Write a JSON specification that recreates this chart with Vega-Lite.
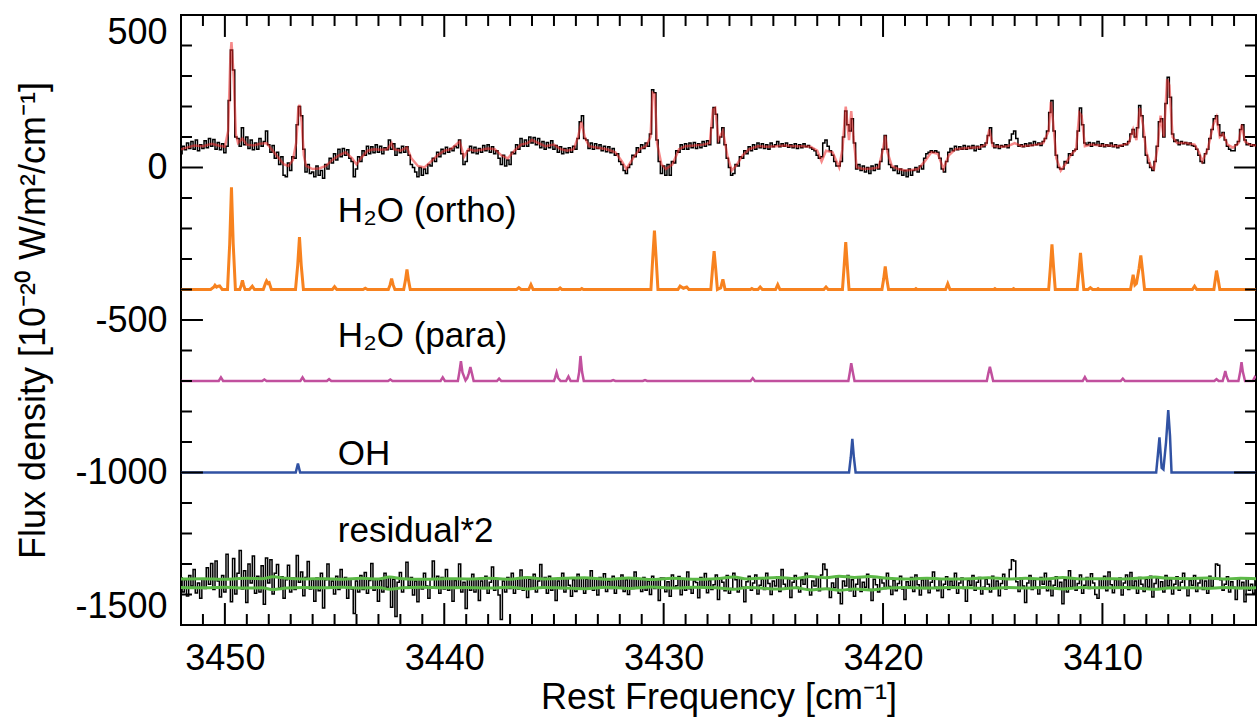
{
"$schema": "https://vega.github.io/schema/vega-lite/v6.json",
"width": 1075, "height": 610,
"autosize": "none",
"padding": {"left": 181, "top": 15, "right": 1, "bottom": 98},
"background": "white",
"config": {"view": {"stroke": "black", "strokeWidth": 2}, "font": "Liberation Sans", "axis": {"grid": false, "ticks": false, "domain": false, "labelFlush": false, "labelOverlap": false}},
"datasets": {
"main": [
{"x":3452.0,"o":45,"r":-1345},{"x":3451.9,"o":70,"r":-1392},{"x":3451.8,"o":58,"r":-1352},{"x":3451.7,"o":80,"r":-1405},{"x":3451.6,"o":62,"r":-1338},{"x":3451.5,"o":85,"r":-1372},{"x":3451.4,"o":60,"r":-1318},{"x":3451.3,"o":90,"r":-1395},{"x":3451.2,"o":55,"r":-1362},{"x":3451.1,"o":75,"r":-1412},{"x":3451.0,"o":62,"r":-1348},{"x":3450.9,"o":88,"r":-1380},{"x":3450.8,"o":65,"r":-1312},{"x":3450.7,"o":95,"r":-1366},{"x":3450.6,"o":70,"r":-1298},{"x":3450.5,"o":92,"r":-1384},{"x":3450.4,"o":60,"r":-1290},{"x":3450.3,"o":82,"r":-1356},{"x":3450.2,"o":58,"r":-1408},{"x":3450.1,"o":78,"r":-1338},{"x":3450.0,"o":48,"r":-1392},
{"x":3449.9,"o":70,"r":-1268},{"x":3449.8,"o":220,"r":-1350},{"x":3449.7,"o":385,"r":-1424},{"x":3449.6,"o":320,"r":-1282},{"x":3449.5,"o":100,"r":-1398},{"x":3449.4,"o":95,"r":-1330},{"x":3449.3,"o":70,"r":-1256},{"x":3449.2,"o":130,"r":-1382},{"x":3449.1,"o":75,"r":-1322},{"x":3449.0,"o":100,"r":-1426},
{"x":3448.9,"o":62,"r":-1300},{"x":3448.8,"o":90,"r":-1362},{"x":3448.7,"o":58,"r":-1274},{"x":3448.6,"o":80,"r":-1396},{"x":3448.5,"o":60,"r":-1340},{"x":3448.4,"o":95,"r":-1392},{"x":3448.3,"o":70,"r":-1306},{"x":3448.2,"o":85,"r":-1432},{"x":3448.1,"o":120,"r":-1280},{"x":3448.0,"o":75,"r":-1362},
{"x":3447.9,"o":50,"r":-1286},{"x":3447.8,"o":72,"r":-1398},{"x":3447.7,"o":30,"r":-1330},{"x":3447.6,"o":50,"r":-1302},{"x":3447.5,"o":10,"r":-1378},{"x":3447.4,"o":35,"r":-1342},{"x":3447.3,"o":-25,"r":-1412},{"x":3447.2,"o":-30,"r":-1352},{"x":3447.1,"o":15,"r":-1304},{"x":3447.0,"o":-10,"r":-1392},
{"x":3446.9,"o":35,"r":-1346},{"x":3446.8,"o":30,"r":-1384},{"x":3446.7,"o":140,"r":-1272},{"x":3446.6,"o":200,"r":-1360},{"x":3446.5,"o":170,"r":-1326},{"x":3446.4,"o":60,"r":-1404},{"x":3446.3,"o":-15,"r":-1344},{"x":3446.2,"o":10,"r":-1292},{"x":3446.1,"o":-20,"r":-1382},{"x":3446.0,"o":-15,"r":-1352},
{"x":3445.9,"o":-30,"r":-1422},{"x":3445.8,"o":5,"r":-1346},{"x":3445.7,"o":-25,"r":-1388},{"x":3445.6,"o":-10,"r":-1330},{"x":3445.5,"o":-35,"r":-1444},{"x":3445.4,"o":10,"r":-1352},{"x":3445.3,"o":-5,"r":-1300},{"x":3445.2,"o":30,"r":-1378},{"x":3445.1,"o":15,"r":-1356},{"x":3445.0,"o":45,"r":-1398},
{"x":3444.9,"o":25,"r":-1340},{"x":3444.8,"o":60,"r":-1384},{"x":3444.7,"o":35,"r":-1318},{"x":3444.6,"o":62,"r":-1376},{"x":3444.5,"o":40,"r":-1344},{"x":3444.4,"o":58,"r":-1412},{"x":3444.3,"o":30,"r":-1350},{"x":3444.2,"o":20,"r":-1382},{"x":3444.1,"o":-30,"r":-1462},{"x":3444.0,"o":-5,"r":-1356},
{"x":3443.9,"o":35,"r":-1392},{"x":3443.8,"o":20,"r":-1338},{"x":3443.7,"o":55,"r":-1384},{"x":3443.6,"o":40,"r":-1328},{"x":3443.5,"o":70,"r":-1396},{"x":3443.4,"o":45,"r":-1354},{"x":3443.3,"o":68,"r":-1298},{"x":3443.2,"o":48,"r":-1386},{"x":3443.1,"o":75,"r":-1348},{"x":3443.0,"o":50,"r":-1422},
{"x":3442.9,"o":70,"r":-1354},{"x":3442.8,"o":45,"r":-1392},{"x":3442.7,"o":65,"r":-1330},{"x":3442.6,"o":58,"r":-1376},{"x":3442.5,"o":90,"r":-1344},{"x":3442.4,"o":60,"r":-1442},{"x":3442.3,"o":78,"r":-1350},{"x":3442.2,"o":40,"r":-1472},{"x":3442.1,"o":62,"r":-1360},{"x":3442.0,"o":48,"r":-1328},
{"x":3441.9,"o":70,"r":-1392},{"x":3441.8,"o":50,"r":-1350},{"x":3441.7,"o":68,"r":-1294},{"x":3441.6,"o":40,"r":-1372},{"x":3441.5,"o":10,"r":-1344},{"x":3441.4,"o":0,"r":-1402},{"x":3441.3,"o":-15,"r":-1356},{"x":3441.2,"o":-30,"r":-1424},{"x":3441.1,"o":0,"r":-1350},{"x":3441.0,"o":-25,"r":-1382},
{"x":3440.9,"o":-5,"r":-1330},{"x":3440.8,"o":-20,"r":-1372},{"x":3440.7,"o":10,"r":-1412},{"x":3440.6,"o":5,"r":-1348},{"x":3440.5,"o":30,"r":-1290},{"x":3440.4,"o":20,"r":-1376},{"x":3440.3,"o":50,"r":-1340},{"x":3440.2,"o":35,"r":-1396},{"x":3440.1,"o":60,"r":-1344},{"x":3440.0,"o":45,"r":-1382},
{"x":3439.9,"o":66,"r":-1318},{"x":3439.8,"o":50,"r":-1386},{"x":3439.7,"o":62,"r":-1350},{"x":3439.6,"o":55,"r":-1422},{"x":3439.5,"o":70,"r":-1354},{"x":3439.4,"o":65,"r":-1376},{"x":3439.3,"o":90,"r":-1300},{"x":3439.2,"o":45,"r":-1392},{"x":3439.1,"o":10,"r":-1360},{"x":3439.0,"o":20,"r":-1446},
{"x":3438.9,"o":55,"r":-1350},{"x":3438.8,"o":70,"r":-1386},{"x":3438.7,"o":48,"r":-1334},{"x":3438.6,"o":66,"r":-1392},{"x":3438.5,"o":45,"r":-1350},{"x":3438.4,"o":62,"r":-1420},{"x":3438.3,"o":50,"r":-1356},{"x":3438.2,"o":72,"r":-1380},{"x":3438.1,"o":55,"r":-1340},{"x":3438.0,"o":75,"r":-1396},
{"x":3437.9,"o":50,"r":-1360},{"x":3437.8,"o":68,"r":-1310},{"x":3437.7,"o":45,"r":-1386},{"x":3437.6,"o":55,"r":-1350},{"x":3437.5,"o":30,"r":-1402},{"x":3437.4,"o":10,"r":-1482},{"x":3437.3,"o":40,"r":-1356},{"x":3437.2,"o":5,"r":-1392},{"x":3437.1,"o":25,"r":-1344},{"x":3437.0,"o":10,"r":-1380},
{"x":3436.9,"o":50,"r":-1330},{"x":3436.8,"o":45,"r":-1396},{"x":3436.7,"o":75,"r":-1350},{"x":3436.6,"o":60,"r":-1382},{"x":3436.5,"o":95,"r":-1320},{"x":3436.4,"o":70,"r":-1386},{"x":3436.3,"o":90,"r":-1344},{"x":3436.2,"o":70,"r":-1410},{"x":3436.1,"o":100,"r":-1350},{"x":3436.0,"o":80,"r":-1380},
{"x":3435.9,"o":98,"r":-1334},{"x":3435.8,"o":75,"r":-1392},{"x":3435.7,"o":95,"r":-1356},{"x":3435.6,"o":65,"r":-1302},{"x":3435.5,"o":85,"r":-1376},{"x":3435.4,"o":60,"r":-1344},{"x":3435.3,"o":82,"r":-1396},{"x":3435.2,"o":65,"r":-1340},{"x":3435.1,"o":88,"r":-1386},{"x":3435.0,"o":60,"r":-1350},
{"x":3434.9,"o":72,"r":-1420},{"x":3434.8,"o":50,"r":-1356},{"x":3434.7,"o":68,"r":-1380},{"x":3434.6,"o":45,"r":-1330},{"x":3434.5,"o":62,"r":-1392},{"x":3434.4,"o":48,"r":-1346},{"x":3434.3,"o":65,"r":-1370},{"x":3434.2,"o":50,"r":-1406},{"x":3434.1,"o":70,"r":-1352},{"x":3434.0,"o":60,"r":-1390},
{"x":3433.9,"o":95,"r":-1334},{"x":3433.8,"o":150,"r":-1380},{"x":3433.7,"o":170,"r":-1346},{"x":3433.6,"o":95,"r":-1396},{"x":3433.5,"o":90,"r":-1350},{"x":3433.4,"o":62,"r":-1380},{"x":3433.3,"o":80,"r":-1322},{"x":3433.2,"o":60,"r":-1386},{"x":3433.1,"o":78,"r":-1350},{"x":3433.0,"o":62,"r":-1402},
{"x":3432.9,"o":75,"r":-1344},{"x":3432.8,"o":55,"r":-1376},{"x":3432.7,"o":70,"r":-1332},{"x":3432.6,"o":52,"r":-1390},{"x":3432.5,"o":68,"r":-1356},{"x":3432.4,"o":48,"r":-1380},{"x":3432.3,"o":62,"r":-1340},{"x":3432.2,"o":40,"r":-1396},{"x":3432.1,"o":45,"r":-1350},{"x":3432.0,"o":20,"r":-1374},
{"x":3431.9,"o":10,"r":-1336},{"x":3431.8,"o":-10,"r":-1390},{"x":3431.7,"o":-20,"r":-1352},{"x":3431.6,"o":0,"r":-1400},{"x":3431.5,"o":10,"r":-1346},{"x":3431.4,"o":40,"r":-1380},{"x":3431.3,"o":35,"r":-1326},{"x":3431.2,"o":65,"r":-1376},{"x":3431.1,"o":50,"r":-1350},{"x":3431.0,"o":75,"r":-1390},
{"x":3430.9,"o":62,"r":-1344},{"x":3430.8,"o":80,"r":-1386},{"x":3430.7,"o":70,"r":-1356},{"x":3430.6,"o":110,"r":-1400},{"x":3430.5,"o":255,"r":-1340},{"x":3430.4,"o":245,"r":-1380},{"x":3430.3,"o":90,"r":-1350},{"x":3430.2,"o":20,"r":-1420},{"x":3430.1,"o":-20,"r":-1346},{"x":3430.0,"o":5,"r":-1346},
{"x":3429.9,"o":-25,"r":-1391},{"x":3429.8,"o":10,"r":-1358},{"x":3429.7,"o":-25,"r":-1406},{"x":3429.6,"o":20,"r":-1336},{"x":3429.5,"o":15,"r":-1376},{"x":3429.4,"o":55,"r":-1371},{"x":3429.3,"o":50,"r":-1341},{"x":3429.2,"o":75,"r":-1401},{"x":3429.1,"o":60,"r":-1351},{"x":3429.0,"o":78,"r":-1386},
{"x":3428.9,"o":60,"r":-1326},{"x":3428.8,"o":80,"r":-1381},{"x":3428.7,"o":65,"r":-1396},{"x":3428.6,"o":82,"r":-1356},{"x":3428.5,"o":62,"r":-1361},{"x":3428.4,"o":78,"r":-1411},{"x":3428.3,"o":65,"r":-1344},{"x":3428.2,"o":85,"r":-1374},{"x":3428.1,"o":70,"r":-1331},{"x":3428.0,"o":88,"r":-1394},
{"x":3427.9,"o":75,"r":-1354},{"x":3427.8,"o":130,"r":-1384},{"x":3427.7,"o":197,"r":-1368},{"x":3427.6,"o":175,"r":-1336},{"x":3427.5,"o":80,"r":-1416},{"x":3427.4,"o":100,"r":-1348},{"x":3427.3,"o":130,"r":-1360},{"x":3427.2,"o":75,"r":-1388},{"x":3427.1,"o":30,"r":-1338},{"x":3427.0,"o":0,"r":-1396},
{"x":3426.9,"o":-25,"r":-1380},{"x":3426.8,"o":-20,"r":-1330},{"x":3426.7,"o":10,"r":-1352},{"x":3426.6,"o":5,"r":-1392},{"x":3426.5,"o":35,"r":-1346},{"x":3426.4,"o":30,"r":-1376},{"x":3426.3,"o":55,"r":-1424},{"x":3426.2,"o":45,"r":-1358},{"x":3426.1,"o":68,"r":-1340},{"x":3426.0,"o":55,"r":-1386},
{"x":3425.9,"o":75,"r":-1362},{"x":3425.8,"o":60,"r":-1336},{"x":3425.7,"o":80,"r":-1398},{"x":3425.6,"o":65,"r":-1370},{"x":3425.5,"o":78,"r":-1350},{"x":3425.4,"o":62,"r":-1384},{"x":3425.3,"o":75,"r":-1330},{"x":3425.2,"o":60,"r":-1364},{"x":3425.1,"o":80,"r":-1400},{"x":3425.0,"o":68,"r":-1356},
{"x":3424.9,"o":75,"r":-1372},{"x":3424.8,"o":85,"r":-1342},{"x":3424.7,"o":68,"r":-1390},{"x":3424.6,"o":78,"r":-1318},{"x":3424.5,"o":70,"r":-1366},{"x":3424.4,"o":80,"r":-1380},{"x":3424.3,"o":66,"r":-1348},{"x":3424.2,"o":75,"r":-1410},{"x":3424.1,"o":65,"r":-1360},{"x":3424.0,"o":78,"r":-1338},
{"x":3423.9,"o":62,"r":-1376},{"x":3423.8,"o":75,"r":-1392},{"x":3423.7,"o":65,"r":-1352},{"x":3423.6,"o":78,"r":-1366},{"x":3423.5,"o":68,"r":-1330},{"x":3423.4,"o":72,"r":-1384},{"x":3423.3,"o":65,"r":-1402},{"x":3423.2,"o":60,"r":-1356},{"x":3423.1,"o":55,"r":-1372},{"x":3423.0,"o":40,"r":-1344},
{"x":3422.9,"o":30,"r":-1388},{"x":3422.8,"o":35,"r":-1336},{"x":3422.7,"o":80,"r":-1300},{"x":3422.6,"o":90,"r":-1318},{"x":3422.5,"o":70,"r":-1380},{"x":3422.4,"o":55,"r":-1410},{"x":3422.3,"o":40,"r":-1362},{"x":3422.2,"o":20,"r":-1378},{"x":3422.1,"o":5,"r":-1344},{"x":3422.0,"o":5,"r":-1396},
{"x":3421.9,"o":20,"r":-1430},{"x":3421.8,"o":100,"r":-1356},{"x":3421.7,"o":185,"r":-1372},{"x":3421.6,"o":140,"r":-1338},{"x":3421.5,"o":120,"r":-1388},{"x":3421.4,"o":160,"r":-1352},{"x":3421.3,"o":80,"r":-1406},{"x":3421.2,"o":-5,"r":-1366},{"x":3421.1,"o":10,"r":-1342},{"x":3421.0,"o":-10,"r":-1390},
{"x":3420.9,"o":5,"r":-1360},{"x":3420.8,"o":-15,"r":-1376},{"x":3420.7,"o":0,"r":-1334},{"x":3420.6,"o":-20,"r":-1384},{"x":3420.5,"o":5,"r":-1420},{"x":3420.4,"o":-10,"r":-1350},{"x":3420.3,"o":10,"r":-1368},{"x":3420.2,"o":-5,"r":-1392},{"x":3420.1,"o":20,"r":-1346},{"x":3420.0,"o":60,"r":-1362},
{"x":3419.9,"o":105,"r":-1380},{"x":3419.8,"o":60,"r":-1330},{"x":3419.7,"o":10,"r":-1374},{"x":3419.6,"o":0,"r":-1400},{"x":3419.5,"o":-10,"r":-1354},{"x":3419.4,"o":5,"r":-1388},{"x":3419.3,"o":-20,"r":-1364},{"x":3419.2,"o":-5,"r":-1340},{"x":3419.1,"o":-25,"r":-1382},{"x":3419.0,"o":-10,"r":-1416},
{"x":3418.9,"o":-30,"r":-1358},{"x":3418.8,"o":-5,"r":-1372},{"x":3418.7,"o":-25,"r":-1344},{"x":3418.6,"o":-10,"r":-1390},{"x":3418.5,"o":0,"r":-1336},{"x":3418.4,"o":-15,"r":-1368},{"x":3418.3,"o":5,"r":-1402},{"x":3418.2,"o":-5,"r":-1352},{"x":3418.1,"o":30,"r":-1380},{"x":3418.0,"o":45,"r":-1346},
{"x":3417.9,"o":50,"r":-1394},{"x":3417.8,"o":55,"r":-1360},{"x":3417.7,"o":50,"r":-1326},{"x":3417.6,"o":55,"r":-1376},{"x":3417.5,"o":50,"r":-1388},{"x":3417.4,"o":30,"r":-1350},{"x":3417.3,"o":-5,"r":-1410},{"x":3417.2,"o":-15,"r":-1366},{"x":3417.1,"o":20,"r":-1342},{"x":3417.0,"o":50,"r":-1384},
{"x":3416.9,"o":62,"r":-1356},{"x":3416.8,"o":55,"r":-1372},{"x":3416.7,"o":70,"r":-1330},{"x":3416.6,"o":58,"r":-1396},{"x":3416.5,"o":68,"r":-1362},{"x":3416.4,"o":60,"r":-1346},{"x":3416.3,"o":72,"r":-1380},{"x":3416.2,"o":60,"r":-1422},{"x":3416.1,"o":70,"r":-1354},{"x":3416.0,"o":62,"r":-1370},
{"x":3415.9,"o":72,"r":-1338},{"x":3415.8,"o":55,"r":-1386},{"x":3415.7,"o":70,"r":-1360},{"x":3415.6,"o":60,"r":-1344},{"x":3415.5,"o":75,"r":-1398},{"x":3415.4,"o":68,"r":-1376},{"x":3415.3,"o":80,"r":-1350},{"x":3415.2,"o":105,"r":-1366},{"x":3415.1,"o":130,"r":-1392},{"x":3415.0,"o":80,"r":-1340},
{"x":3414.9,"o":65,"r":-1378},{"x":3414.8,"o":75,"r":-1356},{"x":3414.7,"o":62,"r":-1404},{"x":3414.6,"o":72,"r":-1364},{"x":3414.5,"o":68,"r":-1334},{"x":3414.4,"o":75,"r":-1382},{"x":3414.3,"o":65,"r":-1350},{"x":3414.2,"o":90,"r":-1318},{"x":3414.1,"o":110,"r":-1286},{"x":3414.0,"o":120,"r":-1290},
{"x":3413.9,"o":95,"r":-1358},{"x":3413.8,"o":70,"r":-1390},{"x":3413.7,"o":75,"r":-1346},{"x":3413.6,"o":68,"r":-1372},{"x":3413.5,"o":78,"r":-1426},{"x":3413.4,"o":70,"r":-1362},{"x":3413.3,"o":80,"r":-1338},{"x":3413.2,"o":72,"r":-1384},{"x":3413.1,"o":85,"r":-1352},{"x":3413.0,"o":75,"r":-1376},
{"x":3412.9,"o":80,"r":-1398},{"x":3412.8,"o":72,"r":-1344},{"x":3412.7,"o":85,"r":-1366},{"x":3412.6,"o":95,"r":-1330},{"x":3412.5,"o":120,"r":-1388},{"x":3412.4,"o":180,"r":-1356},{"x":3412.3,"o":220,"r":-1404},{"x":3412.2,"o":120,"r":-1370},{"x":3412.1,"o":40,"r":-1342},{"x":3412.0,"o":0,"r":-1380},
{"x":3411.9,"o":-5,"r":-1360},{"x":3411.8,"o":-5,"r":-1430},{"x":3411.7,"o":20,"r":-1352},{"x":3411.6,"o":15,"r":-1392},{"x":3411.5,"o":45,"r":-1322},{"x":3411.4,"o":40,"r":-1376},{"x":3411.3,"o":55,"r":-1348},{"x":3411.2,"o":60,"r":-1386},{"x":3411.1,"o":120,"r":-1364},{"x":3411.0,"o":195,"r":-1336},
{"x":3410.9,"o":140,"r":-1396},{"x":3410.8,"o":80,"r":-1370},{"x":3410.7,"o":75,"r":-1344},{"x":3410.6,"o":82,"r":-1380},{"x":3410.5,"o":70,"r":-1332},{"x":3410.4,"o":80,"r":-1362},{"x":3410.3,"o":75,"r":-1400},{"x":3410.2,"o":85,"r":-1412},{"x":3410.1,"o":70,"r":-1350},{"x":3410.0,"o":78,"r":-1376},
{"x":3409.9,"o":68,"r":-1340},{"x":3409.8,"o":75,"r":-1388},{"x":3409.7,"o":70,"r":-1326},{"x":3409.6,"o":80,"r":-1368},{"x":3409.5,"o":68,"r":-1394},{"x":3409.4,"o":75,"r":-1352},{"x":3409.3,"o":65,"r":-1378},{"x":3409.2,"o":72,"r":-1346},{"x":3409.1,"o":70,"r":-1402},{"x":3409.0,"o":78,"r":-1362},
{"x":3408.9,"o":75,"r":-1336},{"x":3408.8,"o":85,"r":-1384},{"x":3408.7,"o":110,"r":-1328},{"x":3408.6,"o":125,"r":-1372},{"x":3408.5,"o":100,"r":-1356},{"x":3408.4,"o":130,"r":-1396},{"x":3408.3,"o":203,"r":-1344},{"x":3408.2,"o":170,"r":-1366},{"x":3408.1,"o":100,"r":-1390},{"x":3408.0,"o":40,"r":-1350},
{"x":3407.9,"o":15,"r":-1376},{"x":3407.8,"o":0,"r":-1340},{"x":3407.7,"o":-10,"r":-1408},{"x":3407.6,"o":20,"r":-1364},{"x":3407.5,"o":70,"r":-1346},{"x":3407.4,"o":150,"r":-1382},{"x":3407.3,"o":160,"r":-1358},{"x":3407.2,"o":100,"r":-1392},{"x":3407.1,"o":210,"r":-1338},{"x":3407.0,"o":296,"r":-1372},
{"x":3406.9,"o":230,"r":-1352},{"x":3406.8,"o":110,"r":-1398},{"x":3406.7,"o":85,"r":-1366},{"x":3406.6,"o":90,"r":-1342},{"x":3406.5,"o":75,"r":-1386},{"x":3406.4,"o":85,"r":-1360},{"x":3406.3,"o":78,"r":-1330},{"x":3406.2,"o":82,"r":-1378},{"x":3406.1,"o":75,"r":-1404},{"x":3406.0,"o":80,"r":-1354},
{"x":3405.9,"o":72,"r":-1370},{"x":3405.8,"o":70,"r":-1338},{"x":3405.7,"o":60,"r":-1390},{"x":3405.6,"o":40,"r":-1362},{"x":3405.5,"o":20,"r":-1348},{"x":3405.4,"o":15,"r":-1384},{"x":3405.3,"o":45,"r":-1356},{"x":3405.2,"o":60,"r":-1396},{"x":3405.1,"o":95,"r":-1340},{"x":3405.0,"o":125,"r":-1374},
{"x":3404.9,"o":160,"r":-1350},{"x":3404.8,"o":170,"r":-1300},{"x":3404.7,"o":140,"r":-1304},{"x":3404.6,"o":105,"r":-1352},{"x":3404.5,"o":115,"r":-1386},{"x":3404.4,"o":90,"r":-1366},{"x":3404.3,"o":70,"r":-1342},{"x":3404.2,"o":60,"r":-1392},{"x":3404.1,"o":55,"r":-1358},{"x":3404.0,"o":55,"r":-1376},
{"x":3403.9,"o":75,"r":-1416},{"x":3403.8,"o":85,"r":-1350},{"x":3403.7,"o":125,"r":-1380},{"x":3403.6,"o":140,"r":-1360},{"x":3403.5,"o":90,"r":-1424},{"x":3403.4,"o":75,"r":-1346},{"x":3403.3,"o":78,"r":-1386},{"x":3403.2,"o":70,"r":-1366},{"x":3403.1,"o":75,"r":-1396},{"x":3403.0,"o":72,"r":-1350}
],
"model": [
{"x":3452.0,"m":60},{"x":3451.7,"m":66},{"x":3451.4,"m":72},{"x":3451.0,"m":70},{"x":3450.6,"m":78},{"x":3450.3,"m":72},{"x":3450.0,"m":68},{"x":3449.85,"m":120},{"x":3449.75,"m":360},{"x":3449.7,"m":411},{"x":3449.6,"m":300},{"x":3449.5,"m":110},{"x":3449.4,"m":80},{"x":3449.2,"m":95},{"x":3449.0,"m":75},{"x":3448.7,"m":72},{"x":3448.4,"m":78},{"x":3448.1,"m":80},{"x":3447.9,"m":62},{"x":3447.6,"m":35},{"x":3447.3,"m":10},{"x":3447.1,"m":5},{"x":3446.9,"m":25},{"x":3446.75,"m":80},{"x":3446.65,"m":195},{"x":3446.6,"m":205},{"x":3446.5,"m":150},{"x":3446.4,"m":40},{"x":3446.3,"m":5},{"x":3446.0,"m":-5},{"x":3445.7,"m":-3},{"x":3445.4,"m":5},{"x":3445.1,"m":25},{"x":3444.8,"m":40},{"x":3444.5,"m":50},{"x":3444.2,"m":30},{"x":3444.0,"m":10},{"x":3443.8,"m":30},{"x":3443.5,"m":55},{"x":3443.2,"m":60},{"x":3442.9,"m":58},{"x":3442.6,"m":60},{"x":3442.4,"m":80},{"x":3442.3,"m":60},{"x":3442.0,"m":55},{"x":3441.7,"m":66},{"x":3441.5,"m":30},{"x":3441.2,"m":5},{"x":3440.9,"m":0},{"x":3440.6,"m":20},{"x":3440.3,"m":40},{"x":3440.0,"m":55},{"x":3439.7,"m":60},{"x":3439.3,"m":85},{"x":3439.1,"m":35},{"x":3438.9,"m":60},{"x":3438.6,"m":55},{"x":3438.3,"m":58},{"x":3438.0,"m":62},{"x":3437.7,"m":60},{"x":3437.4,"m":40},{"x":3437.1,"m":30},{"x":3436.8,"m":55},{"x":3436.5,"m":75},{"x":3436.2,"m":80},{"x":3436.0,"m":90},{"x":3435.7,"m":80},{"x":3435.4,"m":70},{"x":3435.0,"m":75},{"x":3434.7,"m":60},{"x":3434.4,"m":55},{"x":3434.1,"m":60},{"x":3433.9,"m":100},{"x":3433.75,"m":150},{"x":3433.6,"m":100},{"x":3433.4,"m":70},{"x":3433.0,"m":65},{"x":3432.6,"m":60},{"x":3432.2,"m":50},{"x":3431.9,"m":20},{"x":3431.7,"m":-5},{"x":3431.4,"m":30},{"x":3431.1,"m":60},{"x":3430.8,"m":70},{"x":3430.6,"m":100},{"x":3430.5,"m":245},{"x":3430.4,"m":240},{"x":3430.3,"m":80},{"x":3430.1,"m":10},{"x":3429.9,"m":-5},{"x":3429.6,"m":10},{"x":3429.3,"m":60},{"x":3429.0,"m":70},{"x":3428.6,"m":72},{"x":3428.2,"m":75},{"x":3427.9,"m":80},{"x":3427.75,"m":190},{"x":3427.65,"m":195},{"x":3427.5,"m":90},{"x":3427.3,"m":120},{"x":3427.1,"m":40},{"x":3426.9,"m":-10},{"x":3426.7,"m":5},{"x":3426.4,"m":40},{"x":3426.1,"m":60},{"x":3425.7,"m":70},{"x":3425.3,"m":68},{"x":3424.9,"m":70},{"x":3424.5,"m":72},{"x":3424.1,"m":70},{"x":3423.7,"m":70},{"x":3423.3,"m":68},{"x":3423.0,"m":55},{"x":3422.8,"m":20},{"x":3422.6,"m":55},{"x":3422.3,"m":50},{"x":3422.0,"m":0},{"x":3421.85,"m":60},{"x":3421.7,"m":200},{"x":3421.55,"m":90},{"x":3421.45,"m":185},{"x":3421.35,"m":100},{"x":3421.2,"m":0},{"x":3420.9,"m":-5},{"x":3420.5,"m":-3},{"x":3420.2,"m":0},{"x":3420.0,"m":60},{"x":3419.9,"m":105},{"x":3419.8,"m":50},{"x":3419.6,"m":5},{"x":3419.3,"m":-5},{"x":3419.0,"m":-10},{"x":3418.7,"m":-8},{"x":3418.4,"m":-5},{"x":3418.1,"m":20},{"x":3417.8,"m":50},{"x":3417.5,"m":45},{"x":3417.25,"m":-5},{"x":3417.0,"m":40},{"x":3416.7,"m":60},{"x":3416.4,"m":62},{"x":3416.0,"m":65},{"x":3415.6,"m":66},{"x":3415.3,"m":75},{"x":3415.15,"m":125},{"x":3415.0,"m":70},{"x":3414.6,"m":68},{"x":3414.3,"m":70},{"x":3414.0,"m":80},{"x":3413.7,"m":70},{"x":3413.3,"m":72},{"x":3413.0,"m":75},{"x":3412.7,"m":80},{"x":3412.45,"m":120},{"x":3412.35,"m":215},{"x":3412.25,"m":150},{"x":3412.1,"m":30},{"x":3411.9,"m":-10},{"x":3411.7,"m":10},{"x":3411.45,"m":40},{"x":3411.2,"m":60},{"x":3411.05,"m":180},{"x":3410.95,"m":170},{"x":3410.8,"m":70},{"x":3410.5,"m":75},{"x":3410.1,"m":72},{"x":3409.7,"m":72},{"x":3409.3,"m":70},{"x":3409.0,"m":75},{"x":3408.8,"m":80},{"x":3408.6,"m":125},{"x":3408.45,"m":90},{"x":3408.3,"m":195},{"x":3408.15,"m":140},{"x":3408.0,"m":50},{"x":3407.8,"m":5},{"x":3407.65,"m":-5},{"x":3407.5,"m":60},{"x":3407.35,"m":170},{"x":3407.2,"m":100},{"x":3407.05,"m":290},{"x":3406.95,"m":270},{"x":3406.8,"m":100},{"x":3406.6,"m":80},{"x":3406.2,"m":80},{"x":3405.8,"m":75},{"x":3405.6,"m":50},{"x":3405.45,"m":20},{"x":3405.2,"m":60},{"x":3404.95,"m":140},{"x":3404.8,"m":165},{"x":3404.65,"m":100},{"x":3404.5,"m":110},{"x":3404.3,"m":75},{"x":3404.05,"m":65},{"x":3403.8,"m":80},{"x":3403.65,"m":140},{"x":3403.5,"m":85},{"x":3403.3,"m":75},{"x":3403.0,"m":72}
],
"ortho": [
{"x":3452.0,"v":-400},{"x":3450.65,"v":-400},{"x":3450.5,"v":-392},{"x":3450.45,"v":-386},{"x":3450.38,"v":-392},{"x":3450.3,"v":-389},{"x":3450.24,"v":-388},{"x":3450.12,"v":-400},{"x":3449.88,"v":-400},{"x":3449.78,"v":-250},{"x":3449.7,"v":-65},{"x":3449.62,"v":-250},{"x":3449.52,"v":-400},{"x":3449.32,"v":-400},{"x":3449.25,"v":-385},{"x":3449.2,"v":-370},{"x":3449.15,"v":-385},{"x":3449.08,"v":-400},{"x":3448.88,"v":-400},{"x":3448.75,"v":-389},{"x":3448.65,"v":-400},{"x":3448.25,"v":-400},{"x":3448.15,"v":-380},{"x":3448.1,"v":-372},{"x":3448.03,"v":-380},{"x":3447.98,"v":-378},{"x":3447.88,"v":-400},{"x":3446.78,"v":-400},{"x":3446.68,"v":-320},{"x":3446.6,"v":-228},{"x":3446.52,"v":-320},{"x":3446.42,"v":-400},{"x":3445.1,"v":-400},{"x":3445.0,"v":-391},{"x":3444.9,"v":-400},{"x":3443.7,"v":-400},{"x":3443.6,"v":-396},{"x":3443.5,"v":-400},{"x":3442.55,"v":-400},{"x":3442.47,"v":-385},{"x":3442.4,"v":-364},{"x":3442.33,"v":-385},{"x":3442.25,"v":-400},{"x":3441.85,"v":-400},{"x":3441.77,"v":-370},{"x":3441.7,"v":-334},{"x":3441.63,"v":-370},{"x":3441.55,"v":-400},{"x":3436.7,"v":-400},{"x":3436.6,"v":-394},{"x":3436.5,"v":-400},{"x":3436.15,"v":-400},{"x":3436.05,"v":-384},{"x":3435.95,"v":-400},{"x":3434.8,"v":-400},{"x":3434.72,"v":-395},{"x":3434.64,"v":-400},{"x":3433.8,"v":-400},{"x":3433.73,"v":-397},{"x":3433.66,"v":-400},{"x":3430.58,"v":-400},{"x":3430.5,"v":-300},{"x":3430.42,"v":-207},{"x":3430.34,"v":-300},{"x":3430.26,"v":-400},{"x":3429.35,"v":-400},{"x":3429.25,"v":-389},{"x":3429.1,"v":-396},{"x":3428.95,"v":-392},{"x":3428.85,"v":-400},{"x":3427.85,"v":-400},{"x":3427.77,"v":-330},{"x":3427.7,"v":-274},{"x":3427.63,"v":-330},{"x":3427.55,"v":-400},{"x":3427.4,"v":-395},{"x":3427.3,"v":-367},{"x":3427.2,"v":-400},{"x":3426.05,"v":-400},{"x":3425.98,"v":-397},{"x":3425.9,"v":-400},{"x":3425.7,"v":-400},{"x":3425.6,"v":-392},{"x":3425.5,"v":-400},{"x":3424.9,"v":-400},{"x":3424.8,"v":-384},{"x":3424.7,"v":-400},{"x":3422.7,"v":-400},{"x":3422.6,"v":-392},{"x":3422.5,"v":-400},{"x":3421.85,"v":-400},{"x":3421.77,"v":-320},{"x":3421.7,"v":-245},{"x":3421.63,"v":-320},{"x":3421.55,"v":-400},{"x":3420.05,"v":-400},{"x":3419.97,"v":-365},{"x":3419.9,"v":-324},{"x":3419.83,"v":-365},{"x":3419.75,"v":-400},{"x":3418.55,"v":-400},{"x":3418.5,"v":-397},{"x":3418.45,"v":-400},{"x":3417.15,"v":-400},{"x":3417.05,"v":-381},{"x":3416.95,"v":-400},{"x":3414.95,"v":-400},{"x":3414.9,"v":-397},{"x":3414.85,"v":-400},{"x":3414.1,"v":-400},{"x":3414.05,"v":-397},{"x":3414.0,"v":-400},{"x":3412.45,"v":-400},{"x":3412.37,"v":-325},{"x":3412.3,"v":-252},{"x":3412.23,"v":-325},{"x":3412.15,"v":-400},{"x":3411.15,"v":-400},{"x":3411.07,"v":-340},{"x":3411.0,"v":-280},{"x":3410.93,"v":-340},{"x":3410.85,"v":-400},{"x":3410.65,"v":-400},{"x":3410.55,"v":-394},{"x":3410.45,"v":-400},{"x":3410.25,"v":-400},{"x":3410.2,"v":-397},{"x":3410.15,"v":-400},{"x":3408.72,"v":-400},{"x":3408.65,"v":-372},{"x":3408.6,"v":-352},{"x":3408.52,"v":-385},{"x":3408.45,"v":-380},{"x":3408.33,"v":-330},{"x":3408.25,"v":-288},{"x":3408.17,"v":-340},{"x":3408.08,"v":-400},{"x":3405.9,"v":-400},{"x":3405.8,"v":-389},{"x":3405.7,"v":-400},{"x":3404.92,"v":-400},{"x":3404.85,"v":-365},{"x":3404.8,"v":-338},{"x":3404.73,"v":-365},{"x":3404.65,"v":-400},{"x":3403.0,"v":-400}
],
"para": [
{"x":3452.0,"v":-700},{"x":3450.28,"v":-700},{"x":3450.18,"v":-688},{"x":3450.08,"v":-700},{"x":3448.3,"v":-700},{"x":3448.2,"v":-695},{"x":3448.1,"v":-700},{"x":3446.56,"v":-700},{"x":3446.46,"v":-688},{"x":3446.36,"v":-700},{"x":3445.35,"v":-700},{"x":3445.25,"v":-694},{"x":3445.15,"v":-700},{"x":3442.56,"v":-700},{"x":3442.46,"v":-695},{"x":3442.36,"v":-700},{"x":3440.17,"v":-700},{"x":3440.07,"v":-688},{"x":3439.97,"v":-700},{"x":3439.38,"v":-700},{"x":3439.31,"v":-670},{"x":3439.24,"v":-635},{"x":3439.17,"v":-672},{"x":3439.03,"v":-698},{"x":3438.95,"v":-690},{"x":3438.88,"v":-675},{"x":3438.81,"v":-654},{"x":3438.74,"v":-675},{"x":3438.66,"v":-700},{"x":3437.6,"v":-700},{"x":3437.5,"v":-692},{"x":3437.4,"v":-700},{"x":3435.0,"v":-700},{"x":3434.95,"v":-690},{"x":3434.88,"v":-672},{"x":3434.81,"v":-690},{"x":3434.7,"v":-700},{"x":3434.45,"v":-700},{"x":3434.34,"v":-685},{"x":3434.24,"v":-700},{"x":3433.92,"v":-700},{"x":3433.85,"v":-670},{"x":3433.79,"v":-618},{"x":3433.72,"v":-670},{"x":3433.64,"v":-700},{"x":3432.4,"v":-700},{"x":3432.3,"v":-697},{"x":3432.2,"v":-700},{"x":3430.95,"v":-700},{"x":3430.85,"v":-697},{"x":3430.75,"v":-700},{"x":3426.04,"v":-700},{"x":3425.94,"v":-691},{"x":3425.84,"v":-700},{"x":3421.58,"v":-700},{"x":3421.51,"v":-670},{"x":3421.45,"v":-642},{"x":3421.38,"v":-670},{"x":3421.3,"v":-700},{"x":3415.27,"v":-700},{"x":3415.2,"v":-675},{"x":3415.13,"v":-653},{"x":3415.06,"v":-675},{"x":3414.98,"v":-700},{"x":3410.9,"v":-700},{"x":3410.8,"v":-687},{"x":3410.7,"v":-700},{"x":3409.17,"v":-700},{"x":3409.07,"v":-692},{"x":3408.97,"v":-700},{"x":3404.9,"v":-700},{"x":3404.8,"v":-694},{"x":3404.7,"v":-700},{"x":3404.52,"v":-700},{"x":3404.46,"v":-685},{"x":3404.4,"v":-667},{"x":3404.34,"v":-685},{"x":3404.26,"v":-700},{"x":3403.8,"v":-700},{"x":3403.72,"v":-670},{"x":3403.66,"v":-638},{"x":3403.6,"v":-670},{"x":3403.5,"v":-700},{"x":3403.15,"v":-700},{"x":3403.05,"v":-687},{"x":3403.0,"v":-690}
],
"oh": [
{"x":3452.0,"v":-1000},{"x":3446.77,"v":-1000},{"x":3446.67,"v":-971},{"x":3446.57,"v":-1000},{"x":3421.55,"v":-1000},{"x":3421.47,"v":-950},{"x":3421.4,"v":-890},{"x":3421.33,"v":-950},{"x":3421.25,"v":-1000},{"x":3407.55,"v":-1000},{"x":3407.47,"v":-940},{"x":3407.4,"v":-885},{"x":3407.3,"v":-985},{"x":3407.22,"v":-990},{"x":3407.1,"v":-900},{"x":3407.0,"v":-795},{"x":3406.92,"v":-880},{"x":3406.85,"v":-1000},{"x":3403.0,"v":-1000}
],
"green": [
{"x":3452,"g":-1349,"k":"u"},{"x":3451,"g":-1348,"k":"u"},{"x":3450,"g":-1350,"k":"u"},{"x":3449,"g":-1347,"k":"u"},{"x":3448.3,"g":-1348,"k":"u"},{"x":3447.8,"g":-1342,"k":"u"},{"x":3447.2,"g":-1347,"k":"u"},{"x":3446.4,"g":-1349,"k":"u"},{"x":3445.5,"g":-1348,"k":"u"},{"x":3444.6,"g":-1350,"k":"u"},{"x":3443.8,"g":-1347,"k":"u"},{"x":3443,"g":-1349,"k":"u"},{"x":3442.5,"g":-1343,"k":"u"},{"x":3441.9,"g":-1348,"k":"u"},{"x":3441,"g":-1350,"k":"u"},{"x":3440,"g":-1348,"k":"u"},{"x":3439,"g":-1349,"k":"u"},{"x":3438,"g":-1347,"k":"u"},{"x":3437,"g":-1350,"k":"u"},{"x":3436.2,"g":-1344,"k":"u"},{"x":3435.5,"g":-1349,"k":"u"},{"x":3434.5,"g":-1347,"k":"u"},{"x":3433.6,"g":-1345,"k":"u"},{"x":3432.6,"g":-1350,"k":"u"},{"x":3431.6,"g":-1346,"k":"u"},{"x":3430.6,"g":-1351,"k":"u"},{"x":3429.6,"g":-1347,"k":"u"},{"x":3428.6,"g":-1350,"k":"u"},{"x":3427.6,"g":-1348,"k":"u"},{"x":3426.8,"g":-1343,"k":"u"},{"x":3426.2,"g":-1349,"k":"u"},{"x":3425.6,"g":-1347,"k":"u"},{"x":3424.8,"g":-1344,"k":"u"},{"x":3424,"g":-1348,"k":"u"},{"x":3423.3,"g":-1341,"k":"u"},{"x":3422.6,"g":-1345,"k":"u"},{"x":3422,"g":-1340,"k":"u"},{"x":3421.3,"g":-1344,"k":"u"},{"x":3420.6,"g":-1341,"k":"u"},{"x":3419.8,"g":-1347,"k":"u"},{"x":3419,"g":-1349,"k":"u"},{"x":3418,"g":-1347,"k":"u"},{"x":3417,"g":-1349,"k":"u"},{"x":3416,"g":-1348,"k":"u"},{"x":3415.2,"g":-1345,"k":"u"},{"x":3414.3,"g":-1349,"k":"u"},{"x":3413.5,"g":-1347,"k":"u"},{"x":3412.6,"g":-1349,"k":"u"},{"x":3411.8,"g":-1344,"k":"u"},{"x":3411,"g":-1349,"k":"u"},{"x":3410,"g":-1348,"k":"u"},{"x":3409,"g":-1349,"k":"u"},{"x":3408.2,"g":-1346,"k":"u"},{"x":3407.6,"g":-1343,"k":"u"},{"x":3407,"g":-1347,"k":"u"},{"x":3406,"g":-1348,"k":"u"},{"x":3405.2,"g":-1346,"k":"u"},{"x":3404.5,"g":-1349,"k":"u"},{"x":3403.7,"g":-1347,"k":"u"},{"x":3403,"g":-1348,"k":"u"},
{"x":3452,"g":-1377,"k":"l"},{"x":3451,"g":-1378,"k":"l"},{"x":3450,"g":-1376,"k":"l"},{"x":3449,"g":-1379,"k":"l"},{"x":3448.3,"g":-1378,"k":"l"},{"x":3447.8,"g":-1384,"k":"l"},{"x":3447.2,"g":-1379,"k":"l"},{"x":3446.4,"g":-1377,"k":"l"},{"x":3445.5,"g":-1378,"k":"l"},{"x":3444.6,"g":-1376,"k":"l"},{"x":3443.8,"g":-1379,"k":"l"},{"x":3443,"g":-1377,"k":"l"},{"x":3442.5,"g":-1383,"k":"l"},{"x":3441.9,"g":-1378,"k":"l"},{"x":3441,"g":-1376,"k":"l"},{"x":3440,"g":-1378,"k":"l"},{"x":3439,"g":-1377,"k":"l"},{"x":3438,"g":-1379,"k":"l"},{"x":3437,"g":-1376,"k":"l"},{"x":3436.2,"g":-1382,"k":"l"},{"x":3435.5,"g":-1377,"k":"l"},{"x":3434.5,"g":-1379,"k":"l"},{"x":3433.6,"g":-1381,"k":"l"},{"x":3432.6,"g":-1376,"k":"l"},{"x":3431.6,"g":-1380,"k":"l"},{"x":3430.6,"g":-1375,"k":"l"},{"x":3429.6,"g":-1379,"k":"l"},{"x":3428.6,"g":-1376,"k":"l"},{"x":3427.6,"g":-1378,"k":"l"},{"x":3426.8,"g":-1383,"k":"l"},{"x":3426.2,"g":-1377,"k":"l"},{"x":3425.6,"g":-1379,"k":"l"},{"x":3424.8,"g":-1382,"k":"l"},{"x":3424,"g":-1378,"k":"l"},{"x":3423.3,"g":-1385,"k":"l"},{"x":3422.6,"g":-1381,"k":"l"},{"x":3422,"g":-1386,"k":"l"},{"x":3421.3,"g":-1382,"k":"l"},{"x":3420.6,"g":-1385,"k":"l"},{"x":3419.8,"g":-1379,"k":"l"},{"x":3419,"g":-1377,"k":"l"},{"x":3418,"g":-1379,"k":"l"},{"x":3417,"g":-1377,"k":"l"},{"x":3416,"g":-1378,"k":"l"},{"x":3415.2,"g":-1381,"k":"l"},{"x":3414.3,"g":-1377,"k":"l"},{"x":3413.5,"g":-1379,"k":"l"},{"x":3412.6,"g":-1377,"k":"l"},{"x":3411.8,"g":-1382,"k":"l"},{"x":3411,"g":-1377,"k":"l"},{"x":3410,"g":-1378,"k":"l"},{"x":3409,"g":-1377,"k":"l"},{"x":3408.2,"g":-1380,"k":"l"},{"x":3407.6,"g":-1383,"k":"l"},{"x":3407,"g":-1379,"k":"l"},{"x":3406,"g":-1378,"k":"l"},{"x":3405.2,"g":-1380,"k":"l"},{"x":3404.5,"g":-1377,"k":"l"},{"x":3403.7,"g":-1379,"k":"l"},{"x":3403,"g":-1378,"k":"l"}
],
"labels": [
{"x":3444.85,"y":-179,"t":"H₂O (ortho)"},
{"x":3444.85,"y":-590,"t":"H₂O (para)"},
{"x":3444.85,"y":-975,"t":"OH"},
{"x":3444.85,"y":-1228,"t":"residual*2"}
],
"xmaj": [{"v":3410},{"v":3420},{"v":3430},{"v":3440},{"v":3450}],
"xmin": [{"v":3403},{"v":3404},{"v":3405},{"v":3406},{"v":3407},{"v":3408},{"v":3409},{"v":3411},{"v":3412},{"v":3413},{"v":3414},{"v":3415},{"v":3416},{"v":3417},{"v":3418},{"v":3419},{"v":3421},{"v":3422},{"v":3423},{"v":3424},{"v":3425},{"v":3426},{"v":3427},{"v":3428},{"v":3429},{"v":3431},{"v":3432},{"v":3433},{"v":3434},{"v":3435},{"v":3436},{"v":3437},{"v":3438},{"v":3439},{"v":3441},{"v":3442},{"v":3443},{"v":3444},{"v":3445},{"v":3446},{"v":3447},{"v":3448},{"v":3449},{"v":3451},{"v":3452}],
"ymaj": [{"v":-1500},{"v":-1000},{"v":-500},{"v":0},{"v":500}],
"ymin": [{"v":-1400},{"v":-1300},{"v":-1200},{"v":-1100},{"v":-900},{"v":-800},{"v":-700},{"v":-600},{"v":-400},{"v":-300},{"v":-200},{"v":-100},{"v":100},{"v":200},{"v":300},{"v":400}]
},
"resolve": {"axis": {"x": "independent", "y": "independent"}},
"layer": [
{
"data": {"name": "main"},
"mark": {"type": "line", "interpolate": "step", "color": "black", "strokeWidth": 1.5, "clip": true},
"encoding": {
"x": {"field": "x", "type": "quantitative", "scale": {"domain": [3452, 3403], "nice": false, "zero": false},
"axis": {"orient": "bottom", "values": [3410,3420,3430,3440,3450], "labelExpr": "'' + datum.value",
"labelFont": "Liberation Sans", "labelFontSize": 36, "labelColor": "black", "labelPadding": 16,
"title": "Rest Frequency [cm⁻¹]", "titleFont": "Liberation Sans", "titleFontSize": 36, "titleFontWeight": "normal", "titleColor": "black", "titlePadding": 4}},
"y": {"field": "o", "type": "quantitative", "scale": {"domain": [-1500, 500], "nice": false, "zero": false},
"axis": {"orient": "left", "values": [-1500,-1000,-500,0,500], "labelExpr": "'' + datum.value",
"labelFont": "Liberation Sans", "labelFontSize": 36, "labelColor": "black", "labelPadding": 14, "labelFlush": true,
"title": "Flux density [10⁻²⁰ W/m²/cm⁻¹]", "titleFont": "Liberation Sans", "titleFontSize": 36, "titleFontWeight": "normal", "titleColor": "black", "titlePadding": 22}}
}
},
{
"data": {"name": "model"},
"mark": {"type": "line", "color": "#ee2a2a", "opacity": 0.55, "strokeWidth": 2.5, "clip": true},
"encoding": {"x": {"field": "x", "type": "quantitative", "axis": null}, "y": {"field": "m", "type": "quantitative", "axis": null}}
},
{
"data": {"name": "ortho"},
"mark": {"type": "line", "color": "#f7821f", "strokeWidth": 3, "clip": true},
"encoding": {"x": {"field": "x", "type": "quantitative", "axis": null}, "y": {"field": "v", "type": "quantitative", "axis": null}}
},
{
"data": {"name": "para"},
"mark": {"type": "line", "color": "#c1509e", "strokeWidth": 2.5, "clip": true},
"encoding": {"x": {"field": "x", "type": "quantitative", "axis": null}, "y": {"field": "v", "type": "quantitative", "axis": null}}
},
{
"data": {"name": "oh"},
"mark": {"type": "line", "color": "#3152a3", "strokeWidth": 2.5, "clip": true},
"encoding": {"x": {"field": "x", "type": "quantitative", "axis": null}, "y": {"field": "v", "type": "quantitative", "axis": null}}
},
{
"data": {"name": "main"},
"mark": {"type": "line", "interpolate": "step", "color": "black", "strokeWidth": 1.5, "clip": true},
"encoding": {"x": {"field": "x", "type": "quantitative", "axis": null}, "y": {"field": "r", "type": "quantitative", "axis": null}}
},
{
"data": {"name": "green"},
"mark": {"type": "line", "color": "#5cb947", "strokeWidth": 3, "interpolate": "monotone", "clip": true},
"encoding": {"x": {"field": "x", "type": "quantitative", "axis": null}, "y": {"field": "g", "type": "quantitative", "axis": null}, "detail": {"field": "k"}}
},
{
"data": {"name": "labels"},
"mark": {"type": "text", "align": "left", "baseline": "alphabetic", "font": "Liberation Sans", "fontSize": 35, "color": "black"},
"encoding": {"x": {"field": "x", "type": "quantitative", "axis": null}, "y": {"field": "y", "type": "quantitative", "axis": null}, "text": {"field": "t"}}
},
{
"data": {"name": "xmaj"},
"mark": {"type": "rule", "color": "black", "strokeWidth": 2},
"encoding": {"x": {"field": "v", "type": "quantitative", "axis": null}, "y": {"datum": 500, "type": "quantitative", "axis": null}, "y2": {"datum": 428}}
},
{
"data": {"name": "xmaj"},
"mark": {"type": "rule", "color": "black", "strokeWidth": 2},
"encoding": {"x": {"field": "v", "type": "quantitative", "axis": null}, "y": {"datum": -1500, "type": "quantitative", "axis": null}, "y2": {"datum": -1428}}
},
{
"data": {"name": "xmin"},
"mark": {"type": "rule", "color": "black", "strokeWidth": 2},
"encoding": {"x": {"field": "v", "type": "quantitative", "axis": null}, "y": {"datum": 500, "type": "quantitative", "axis": null}, "y2": {"datum": 464}}
},
{
"data": {"name": "xmin"},
"mark": {"type": "rule", "color": "black", "strokeWidth": 2},
"encoding": {"x": {"field": "v", "type": "quantitative", "axis": null}, "y": {"datum": -1500, "type": "quantitative", "axis": null}, "y2": {"datum": -1464}}
},
{
"data": {"name": "ymaj"},
"mark": {"type": "rule", "color": "black", "strokeWidth": 2},
"encoding": {"y": {"field": "v", "type": "quantitative", "axis": null}, "x": {"datum": 3452, "type": "quantitative", "axis": null}, "x2": {"datum": 3451}}
},
{
"data": {"name": "ymaj"},
"mark": {"type": "rule", "color": "black", "strokeWidth": 2},
"encoding": {"y": {"field": "v", "type": "quantitative", "axis": null}, "x": {"datum": 3403, "type": "quantitative", "axis": null}, "x2": {"datum": 3404}}
},
{
"data": {"name": "ymin"},
"mark": {"type": "rule", "color": "black", "strokeWidth": 2},
"encoding": {"y": {"field": "v", "type": "quantitative", "axis": null}, "x": {"datum": 3452, "type": "quantitative", "axis": null}, "x2": {"datum": 3451.5}}
},
{
"data": {"name": "ymin"},
"mark": {"type": "rule", "color": "black", "strokeWidth": 2},
"encoding": {"y": {"field": "v", "type": "quantitative", "axis": null}, "x": {"datum": 3403, "type": "quantitative", "axis": null}, "x2": {"datum": 3403.5}}
}
]
}
